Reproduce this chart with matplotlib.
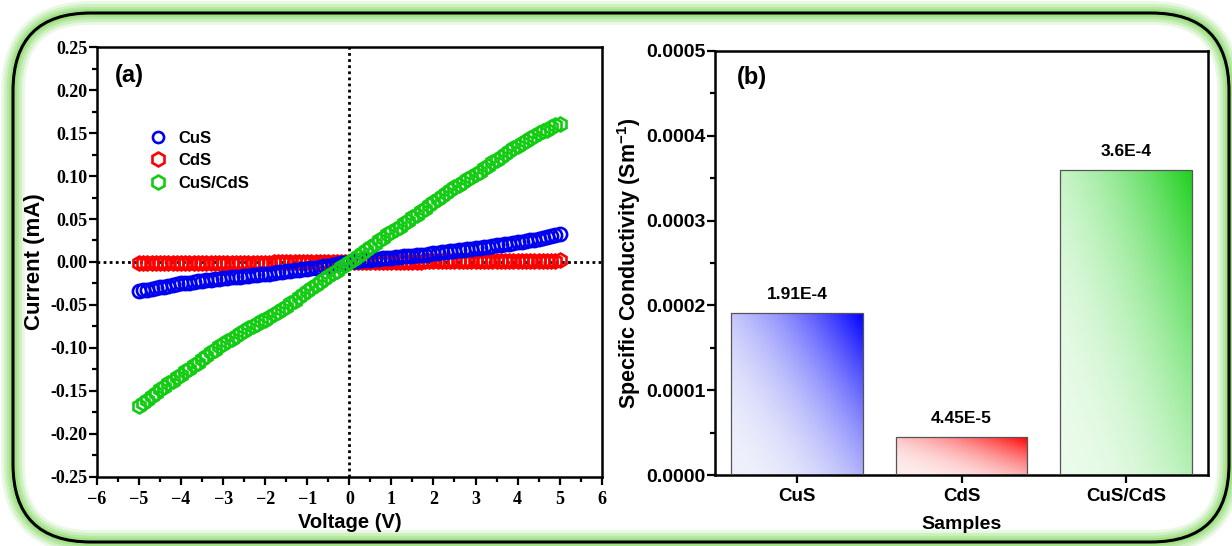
import numpy as np
import matplotlib
matplotlib.use("Agg")
import matplotlib.pyplot as plt
from matplotlib.patches import FancyBboxPatch
from matplotlib.colors import LinearSegmentedColormap
from matplotlib.ticker import MultipleLocator, FormatStrFormatter
from matplotlib.lines import Line2D

# ---------------- I–V sweep data (mA), -5 V ... +5 V in 0.1 V steps ----------------
voltage = np.round(np.arange(-50, 51) / 10.0, 1)

current_cus = [
    -0.0340, -0.0330, -0.0320, -0.0310, -0.0300, -0.0290, -0.0285, -0.0275, -0.0265, -0.0260,
    -0.0250, -0.0245, -0.0240, -0.0232, -0.0226, -0.0220, -0.0214, -0.0208, -0.0202, -0.0196,
    -0.0190, -0.0185, -0.0180, -0.0175, -0.0172, -0.0168, -0.0162, -0.0156, -0.0150, -0.0145,
    -0.0140, -0.0134, -0.0128, -0.0122, -0.0116, -0.0110, -0.0104, -0.0098, -0.0092, -0.0086,
    -0.0080, -0.0073, -0.0066, -0.0058, -0.0050, -0.0042, -0.0034, -0.0025, -0.0017, -0.0008,
    0.0000, 0.0006, 0.0012, 0.0018, 0.0023, 0.0028, 0.0033, 0.0038, 0.0043, 0.0047,
    0.0052, 0.0056, 0.0060, 0.0064, 0.0068, 0.0072, 0.0077, 0.0082, 0.0087, 0.0093,
    0.0099, 0.0105, 0.0111, 0.0117, 0.0123, 0.0129, 0.0135, 0.0141, 0.0147, 0.0153,
    0.0159, 0.0165, 0.0172, 0.0179, 0.0186, 0.0193, 0.0200, 0.0207, 0.0214, 0.0221,
    0.0228, 0.0236, 0.0244, 0.0252, 0.0260, 0.0268, 0.0277, 0.0287, 0.0298, 0.0310,
    0.0325,
]

current_cds = [
    -0.0016, -0.0016, -0.0015, -0.0015, -0.0015, -0.0014, -0.0014, -0.0014, -0.0013, -0.0013,
    -0.0013, -0.0012, -0.0012, -0.0012, -0.0011, -0.0011, -0.0011, -0.0010, -0.0010, -0.0010,
    -0.0009, -0.0009, -0.0009, -0.0008, -0.0008, -0.0008, -0.0007, -0.0007, -0.0007, -0.0006,
    -0.0006, -0.0006, -0.0005, -0.0005, -0.0005, -0.0004, -0.0004, -0.0004, -0.0003, -0.0003,
    -0.0003, -0.0003, -0.0002, -0.0002, -0.0002, -0.0001, -0.0001, -0.0001, -0.0001, 0.0000,
    0.0000, 0.0000, 0.0001, 0.0001, 0.0001, 0.0001, 0.0002, 0.0002, 0.0002, 0.0003,
    0.0003, 0.0003, 0.0004, 0.0004, 0.0004, 0.0005, 0.0005, 0.0005, 0.0006, 0.0006,
    0.0006, 0.0007, 0.0007, 0.0007, 0.0008, 0.0008, 0.0008, 0.0009, 0.0009, 0.0009,
    0.0010, 0.0010, 0.0010, 0.0011, 0.0011, 0.0011, 0.0012, 0.0012, 0.0013, 0.0013,
    0.0013, 0.0014, 0.0014, 0.0015, 0.0015, 0.0015, 0.0016, 0.0016, 0.0017, 0.0017,
    0.0018,
]

current_cus_cds = [
    -0.168, -0.164, -0.160, -0.156, -0.152, -0.148, -0.145, -0.141, -0.138, -0.134,
    -0.131, -0.127, -0.124, -0.120, -0.117, -0.113, -0.109, -0.105, -0.102, -0.098,
    -0.095, -0.092, -0.089, -0.086, -0.083, -0.080, -0.077, -0.075, -0.072, -0.069,
    -0.067, -0.064, -0.061, -0.058, -0.055, -0.052, -0.048, -0.045, -0.041, -0.037,
    -0.034, -0.030, -0.027, -0.023, -0.020, -0.016, -0.013, -0.010, -0.006, -0.003,
    0.000, 0.004, 0.007, 0.011, 0.014, 0.018, 0.021, 0.025, 0.028, 0.032,
    0.035, 0.038, 0.041, 0.045, 0.048, 0.052, 0.055, 0.059, 0.062, 0.066,
    0.070, 0.073, 0.077, 0.080, 0.084, 0.087, 0.090, 0.093, 0.096, 0.099,
    0.102, 0.105, 0.109, 0.112, 0.116, 0.119, 0.122, 0.126, 0.129, 0.132,
    0.135, 0.138, 0.141, 0.144, 0.147, 0.150, 0.152, 0.154, 0.157, 0.159,
    0.160,
]

series_names = ["CuS", "CdS", "CuS/CdS"]

# ---------------- specific conductivity (S m^-1) ----------------
samples = ["CuS", "CdS", "CuS/CdS"]
conductivity = [1.91e-4, 4.45e-5, 3.6e-4]
conductivity_labels = ["1.91E-4", "4.45E-5", "3.6E-4"]

# ---------------- styling ----------------
SANS = "Liberation Sans"
SERIF = "Liberation Serif"
W, H = 1232, 546

plt.rcParams["mathtext.fontset"] = "custom"
plt.rcParams["mathtext.rm"] = "Liberation Sans:bold"
plt.rcParams["mathtext.bf"] = "Liberation Sans:bold"
plt.rcParams["mathtext.it"] = "Liberation Sans:bold:italic"

fig = plt.figure(figsize=(W / 100, H / 100), dpi=100, facecolor="white")

# rounded, glowing frame drawn in pixel units on a full-figure canvas
bg = fig.add_axes([0, 0, 1, 1], zorder=-10)
bg.set_xlim(0, W)
bg.set_ylim(0, H)
bg.axis("off")
frame_kw = dict(boxstyle="round,pad=0,rounding_size=78", fc="none")
for lw, a in [(17, 0.2), (13, 0.28), (9, 0.38), (5.5, 0.55)]:
    bg.add_patch(FancyBboxPatch((13, 4), 1216, 529, ec="#8fdc6f", lw=lw, alpha=a, **frame_kw))
bg.add_patch(FancyBboxPatch((13, 4), 1216, 529, ec="black", lw=2.2, **frame_kw))

# ================= (a) I–V curves =================
ax1 = fig.add_axes([0.0787, 0.1264, 0.4097, 0.7875])
ax1.axhline(0, color="black", ls=(0, (1.0, 1.2)), lw=2.0, zorder=1)
ax1.axvline(0, color="black", ls=(0, (1.0, 1.2)), lw=2.0, zorder=1)

ax1.plot(voltage, current_cds, ls="none", marker="h", ms=10, mfc="none",
         mec="#ff0000", mew=1.9, zorder=2)
ax1.plot(voltage, current_cus, ls="none", marker="o", ms=9.5, mfc="none",
         mec="#0000ee", mew=1.9, zorder=3)
ax1.plot(voltage, current_cus_cds, ls="none", marker="h", ms=10, mfc="none",
         mec="#11cc11", mew=1.9, zorder=4)

ax1.set_xlim(-6, 6)
ax1.set_ylim(-0.25, 0.25)
ax1.xaxis.set_major_locator(MultipleLocator(1))
ax1.xaxis.set_minor_locator(MultipleLocator(0.5))
ax1.yaxis.set_major_locator(MultipleLocator(0.05))
ax1.yaxis.set_minor_locator(MultipleLocator(0.025))
ax1.yaxis.set_major_formatter(FormatStrFormatter("%.2f"))
ax1.tick_params(which="both", direction="out", top=False, right=False, width=1.6)
ax1.tick_params(which="major", length=6)
ax1.tick_params(which="minor", length=3.5)
ax1.tick_params(axis="y", pad=1)
ax1.tick_params(axis="x", pad=4)
for lab in ax1.get_xticklabels() + ax1.get_yticklabels():
    lab.set_fontfamily(SERIF)
    lab.set_fontweight("bold")
    lab.set_fontsize(13)
for sp in ax1.spines.values():
    sp.set_linewidth(1.8)

ax1.set_xlabel("Voltage (V)", fontfamily=SANS, fontweight="bold", fontsize=14.5, labelpad=4)
ax1.set_ylabel("Current (mA)", fontfamily=SANS, fontweight="bold", fontsize=16, labelpad=4)
ax1.text(0.035, 0.96, "(a)", transform=ax1.transAxes, ha="left", va="top",
         fontfamily=SANS, fontweight="bold", fontsize=17)

handles = [
    Line2D([], [], ls="none", marker="o", ms=8, mfc="none", mec="#0000ee", mew=1.9),
    Line2D([], [], ls="none", marker="h", ms=10, mfc="none", mec="#ff0000", mew=1.9),
    Line2D([], [], ls="none", marker="h", ms=10, mfc="none", mec="#11cc11", mew=1.9),
]
ax1.legend(handles, series_names, loc="upper left", bbox_to_anchor=(0.075, 0.84),
           frameon=False, handlelength=1.0, handletextpad=0.7, labelspacing=0.45,
           prop=dict(family=SANS, weight="bold", size=12))

# ================= (b) conductivity bars =================
ax2 = fig.add_axes([0.5804, 0.1300, 0.4002, 0.7766])
positions = np.arange(1, len(samples) + 1)
bars = ax2.bar(positions, conductivity, width=0.8, color="none",
               edgecolor="#555555", linewidth=0.9, zorder=3)

bar_colors = [("#eef0fb", "#0000ff"), ("#fdecec", "#ff0000"), ("#eafbea", "#1ed01e")]
n = 256
gx, gy = np.meshgrid(np.linspace(0, 1, n), np.linspace(0, 1, n))
ramp = ((0.55 * gx + 0.45 * gy)) ** 2.2
for bar, (c0, c1) in zip(bars, bar_colors):
    cmap = LinearSegmentedColormap.from_list("grad", [c0, c1])
    x0, w, h = bar.get_x(), bar.get_width(), bar.get_height()
    im = ax2.imshow(ramp, cmap=cmap, origin="lower", aspect="auto", vmin=0, vmax=1,
                    extent=(x0, x0 + w, 0, h), zorder=2, interpolation="bilinear")
    im.set_clip_path(bar)

for x, v, lab in zip(positions, conductivity, conductivity_labels):
    ax2.annotate(lab, (x, v), xytext=(0, 8), textcoords="offset points",
                 ha="center", va="bottom", fontfamily=SANS, fontweight="bold", fontsize=12.5)

ax2.set_xlim(0.5, 3.5)
ax2.set_ylim(0, 0.0005)
ax2.set_xticks(positions)
ax2.set_xticklabels(samples)
ax2.yaxis.set_major_locator(MultipleLocator(0.0001))
ax2.yaxis.set_minor_locator(MultipleLocator(0.00005))
ax2.yaxis.set_major_formatter(FormatStrFormatter("%.4f"))
ax2.tick_params(which="both", direction="out", top=False, right=False, width=1.6)
ax2.tick_params(which="major", length=6)
ax2.tick_params(which="minor", length=3.5)
ax2.tick_params(axis="x", which="minor", bottom=False)
ax2.tick_params(axis="y", pad=1)
ax2.tick_params(axis="x", pad=3)
for lab in ax2.get_xticklabels():
    lab.set_fontfamily(SANS)
    lab.set_fontweight("bold")
    lab.set_fontsize(13.5)
for lab in ax2.get_yticklabels():
    lab.set_fontfamily(SANS)
    lab.set_fontweight("bold")
    lab.set_fontsize(14)
for sp in ax2.spines.values():
    sp.set_linewidth(1.8)

ax2.set_xlabel("Samples", fontfamily=SANS, fontweight="bold", fontsize=14, labelpad=8)
ax2.set_ylabel(r"Specific Conductivity (Sm$^{-1}$)", fontfamily=SANS,
               fontweight="bold", fontsize=15.5, labelpad=2)
ax2.text(0.045, 0.965, "(b)", transform=ax2.transAxes, ha="left", va="top",
         fontfamily=SANS, fontweight="bold", fontsize=17)

fig.savefig("out.png", dpi=100, facecolor="white")
